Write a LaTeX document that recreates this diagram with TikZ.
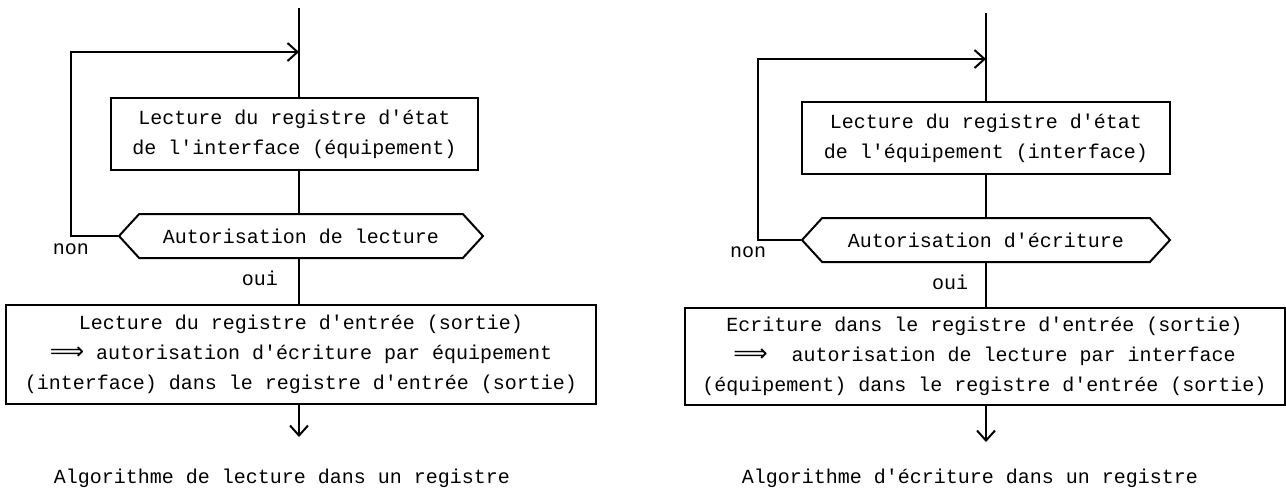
\documentclass[tikz,border=0pt]{standalone}
\usepackage{fontspec}
\setmonofont{Liberation Mono}
\newfontfamily\flechefont{DejaVu Sans}
\usepackage{tikz}
\usetikzlibrary{arrows.meta,positioning,shapes.symbols}
\newcommand{\regfont}{\ttfamily\fontsize{10}{15}\selectfont}
\newcommand{\impl}{{\flechefont\fontsize{12}{15}\selectfont ⟹}}
\tikzset{
  etatbox/.style={draw=black,line width=1pt,align=center,
                  font=\regfont,inner sep=0pt},
  testbox/.style={draw=black,line width=1pt,shape=signal,
                  signal to=west and east,signal pointer angle=95,
                  align=center,font=\regfont,inner sep=0pt},
  choixlbl/.style={font=\regfont,inner sep=0pt},
  titrelbl/.style={font=\regfont,inner sep=0pt},
  flowline/.style={line width=1pt},
  flowarr/.style={-{Straight Barb[length=5pt,width=9pt,line width=1pt]},line width=1pt}
}

\begin{document}
\begin{tikzpicture}[x=0.5pt,y=-0.5pt]
  \useasboundingbox (0,0) rectangle (1286,495);

  \coordinate (Ltop) at (299,8);
  \coordinate (Lloop) at (299,52);
  \coordinate (Lcoin) at (71,52);
  \coordinate (Lend) at (299,437);
  \node[etatbox,minimum width=183.5pt,minimum height=36pt] (Letat) at (294.5,134)
    {Lecture du registre d'état\\de l'interface (équipement)};
  \node[testbox,minimum width=182pt,minimum height=22pt] (Ltest) at (301,236)
    {Autorisation de lecture};
  \node[etatbox,minimum width=295pt,minimum height=49.5pt] (Lacces) at (301,354.5)
    {Lecture du registre d'entrée (sortie)\\
     \impl\ autorisation d'écriture par équipement\\
     (interface) dans le registre d'entrée (sortie)};
  \node[choixlbl] (Lnon) at (71,249) {non};
  \node[choixlbl] (Loui) at (260,278) {oui};
  \node[titrelbl] (Ltitre) at (282,478) {Algorithme de lecture dans un registre};
  \draw[flowline] (Ltop) -- (Ltop |- Letat.north);
  \draw[flowline] (Ltop |- Letat.south) -- (Ltop |- Ltest.north);
  \draw[flowline] (Ltop |- Ltest.south) -- (Ltop |- Lacces.north);
  \draw[flowarr] (Ltop |- Lacces.south) -- (Lend);
  \draw[flowarr] (Ltest.west) -| (Lcoin) -- (Lloop);

  \coordinate (Rtop) at (986,13);
  \coordinate (Rloop) at (986,59);
  \coordinate (Rcoin) at (758,59);
  \coordinate (Rend) at (986,442);
  \node[etatbox,minimum width=184pt,minimum height=36pt] (Retat) at (986,138)
    {Lecture du registre d'état\\de l'équipement (interface)};
  \node[testbox,minimum width=184pt,minimum height=22pt] (Rtest) at (986,240)
    {Autorisation d'écriture};
  \node[etatbox,minimum width=300pt,minimum height=48.5pt] (Racces) at (984.5,356.5)
    {Ecriture dans le registre d'entrée (sortie)\\
     \impl\ \ autorisation de lecture par interface\\
     (équipement) dans le registre d'entrée (sortie)};
  \node[choixlbl] (Rnon) at (748,252) {non};
  \node[choixlbl] (Roui) at (950,282) {oui};
  \node[titrelbl] (Rtitre) at (970,478) {Algorithme d'écriture dans un registre};
  \draw[flowline] (Rtop) -- (Rtop |- Retat.north);
  \draw[flowline] (Rtop |- Retat.south) -- (Rtop |- Rtest.north);
  \draw[flowline] (Rtop |- Rtest.south) -- (Rtop |- Racces.north);
  \draw[flowarr] (Rtop |- Racces.south) -- (Rend);
  \draw[flowarr] (Rtest.west) -| (Rcoin) -- (Rloop);
\end{tikzpicture}
\end{document}
